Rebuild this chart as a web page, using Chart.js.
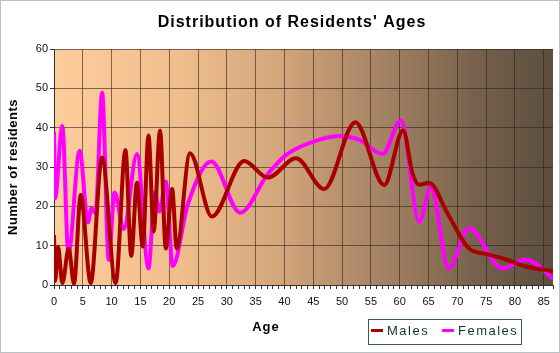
<!DOCTYPE html>
<html>
<head>
<meta charset="utf-8">
<script src="https://cdn.jsdelivr.net/npm/chart.js@4/dist/chart.umd.min.js"></script>
<style>
  html, body { margin: 0; padding: 0; background: #ffffff; }
  #wrap { width: 560px; height: 353px; position: relative; }
</style>
</head>
<body>
<div id="wrap"><canvas id="c" width="560" height="353"></canvas></div>
<script>
// ---- Data ----
const chartTitle = "Distribution of Residents' Ages";
const xTitle = "Age";
const yTitle = "Number of residents";
const seriesNames = ["Males", "Females"];

const maleAges   = [0, 0.2, 0.7, 1.45, 2.55, 3.47, 4.63, 6.37, 8.33, 10.7, 12.4, 13.4, 14.4, 15.4, 16.4, 17.3, 18.4, 19.4, 20.5, 21.3, 23.6, 27.4, 33.0, 37.1, 42.0, 46.9, 52.3, 57.3, 60.6, 62.2, 63.4, 65.1, 68.3, 72.0, 74.9, 77.8, 81.9, 86.6];
const maleValues = [12.7, 1, 9.7, 0.5, 9.3, 0.3, 22.9, 0.5, 32.4, 0.5, 34.3, 7.4, 26, 9.8, 38, 13.6, 39.3, 9.3, 24.4, 9.3, 33.5, 17.4, 31.5, 27.3, 32.2, 24.4, 41.4, 25.4, 39.3, 28.4, 25.5, 26, 18.2, 9.3, 7.9, 6.8, 4.7, 3.5];

const femaleAges   = [0, 0.15, 1.45, 2.5, 4.45, 5.9, 6.5, 7.2, 8.35, 9.5, 10.5, 12.1, 14.4, 16.4, 17.5, 18.3, 19.4, 20.6, 23.2, 27.3, 32.3, 37.1, 40.3, 44.3, 49.5, 53.0, 57.0, 60.2, 63.4, 65.4, 68.5, 72.0, 77.8, 81.9, 86.6];
const femaleValues = [39, 22, 40.4, 8, 34.1, 15.9, 19.5, 18.2, 48.9, 6.4, 23.5, 14.2, 33.3, 4.2, 23.5, 18.7, 26.3, 4.8, 20.4, 31.4, 18.4, 28.2, 33.1, 36.1, 37.9, 36.9, 33.3, 41.8, 16.1, 24.9, 4.2, 14.4, 4.2, 6.5, 1.7];

const xMin = 0, xMax = 86.6, yMin = 0, yMax = 60;

const maleColor = '#a80000';
const femaleColor = '#ff00ff';
const gridColor = 'rgba(45,35,25,0.6)';

function toPoints(xs, ys) { return xs.map((x, i) => ({ x: x, y: ys[i] })); }

const bgPlugin = {
  id: 'bg',
  beforeDraw(chart) {
    const ctx = chart.ctx, a = chart.chartArea;
    ctx.save();
    ctx.fillStyle = '#ffffff';
    ctx.fillRect(0, 0, chart.width, chart.height);
    const g = ctx.createLinearGradient(a.left, 0, a.right, 0);
    g.addColorStop(0.00, 'rgb(253,205,155)');
    g.addColorStop(0.25, 'rgb(240,190,140)');
    g.addColorStop(0.45, 'rgb(212,166,124)');
    g.addColorStop(0.65, 'rgb(167,132,101)');
    g.addColorStop(0.85, 'rgb(118,96,75)');
    g.addColorStop(1.00, 'rgb(92,78,62)');
    ctx.fillStyle = g;
    ctx.fillRect(a.left, a.top, a.right - a.left, a.bottom - a.top);
    ctx.strokeStyle = '#b8c4c4';
    ctx.lineWidth = 1;
    ctx.strokeRect(0.5, 0.5, chart.width - 1, chart.height - 1);
    ctx.restore();
  }
};

const textPlugin = {
  id: 'texts',
  afterDraw(chart) {
    const ctx = chart.ctx, a = chart.chartArea;
    ctx.save();
    ctx.fillStyle = '#000';
    ctx.textAlign = 'center';
    ctx.textBaseline = 'middle';
    // Title
    ctx.font = 'bold 16px "Liberation Sans", Arial, sans-serif';
    ctx.letterSpacing = '1px';
    ctx.fillText(chartTitle, 292, 23);
    // X title
    ctx.font = 'bold 13px "Liberation Sans", Arial, sans-serif';
    ctx.letterSpacing = '1px';
    ctx.fillText(xTitle, 266, 327);
    // Y title
    ctx.save();
    ctx.translate(13, (a.top + a.bottom) / 2);
    ctx.rotate(-Math.PI / 2);
    ctx.letterSpacing = '0.5px';
    ctx.fillText(yTitle, 0, 0);
    ctx.restore();
    // Legend
    ctx.letterSpacing = '1.5px';
    ctx.strokeStyle = '#3c5a5a';
    ctx.lineWidth = 1;
    ctx.strokeRect(368.5, 319.5, 153, 25);
    const items = [
      { name: seriesNames[0], color: maleColor, mx: 371, tx: 387 },
      { name: seriesNames[1], color: femaleColor, mx: 442, tx: 458 }
    ];
    ctx.font = '13px "Liberation Sans", Arial, sans-serif';
    ctx.textAlign = 'left';
    items.forEach(it => {
      ctx.strokeStyle = it.color;
      ctx.lineWidth = 3;
      ctx.beginPath();
      ctx.moveTo(it.mx, 330.5);
      ctx.lineTo(it.mx + 12, 330.5);
      ctx.stroke();
      ctx.fillStyle = '#113333';
      ctx.fillText(it.name, it.tx, 331);
    });
    ctx.restore();
  }
};

new Chart(document.getElementById('c'), {
  type: 'line',
  data: {
    datasets: [
      {
        label: seriesNames[0],
        data: toPoints(maleAges, maleValues),
        borderColor: maleColor,
        backgroundColor: maleColor,
        borderWidth: 4,
        pointRadius: 0,
        cubicInterpolationMode: 'monotone',
        fill: false
      },
      {
        label: seriesNames[1],
        data: toPoints(femaleAges, femaleValues),
        borderColor: femaleColor,
        backgroundColor: femaleColor,
        borderWidth: 4,
        pointRadius: 0,
        cubicInterpolationMode: 'monotone',
        fill: false
      }
    ]
  },
  options: {
    responsive: false,
    animation: false,
    events: [],
    layout: { padding: { left: 0, right: 7, top: 49, bottom: 0 } },
    plugins: {
      legend: { display: false },
      title: { display: false },
      tooltip: { enabled: false }
    },
    scales: {
      x: {
        type: 'linear',
        min: xMin,
        max: xMax,
        afterFit: s => { s.height = 68; },
        border: { display: true, color: '#333', width: 1 },
        grid: {
          color: c => (c.tick && Number.isInteger(c.tick.value) && c.tick.value % 5 === 0) ? gridColor : 'rgba(0,0,0,0)',
          tickColor: '#333',
          tickLength: 4,
          drawTicks: true
        },
        ticks: {
          stepSize: 1,
          autoSkip: false,
          maxRotation: 0,
          minRotation: 0,
          padding: 6,
          color: '#111',
          font: { family: '"Liberation Sans", Arial, sans-serif', size: 11 },
          callback: v => (Number.isInteger(v) && v % 5 === 0) ? String(v) : ''
        }
      },
      y: {
        min: yMin,
        max: yMax,
        afterFit: s => { s.width = 54; },
        border: { display: true, color: '#333', width: 1 },
        grid: {
          color: gridColor,
          tickColor: '#333',
          tickLength: 4
        },
        ticks: {
          stepSize: 10,
          padding: 2,
          color: '#111',
          font: { family: '"Liberation Sans", Arial, sans-serif', size: 11 }
        }
      }
    }
  },
  plugins: [bgPlugin, textPlugin]
});
</script>
</body>
</html>
